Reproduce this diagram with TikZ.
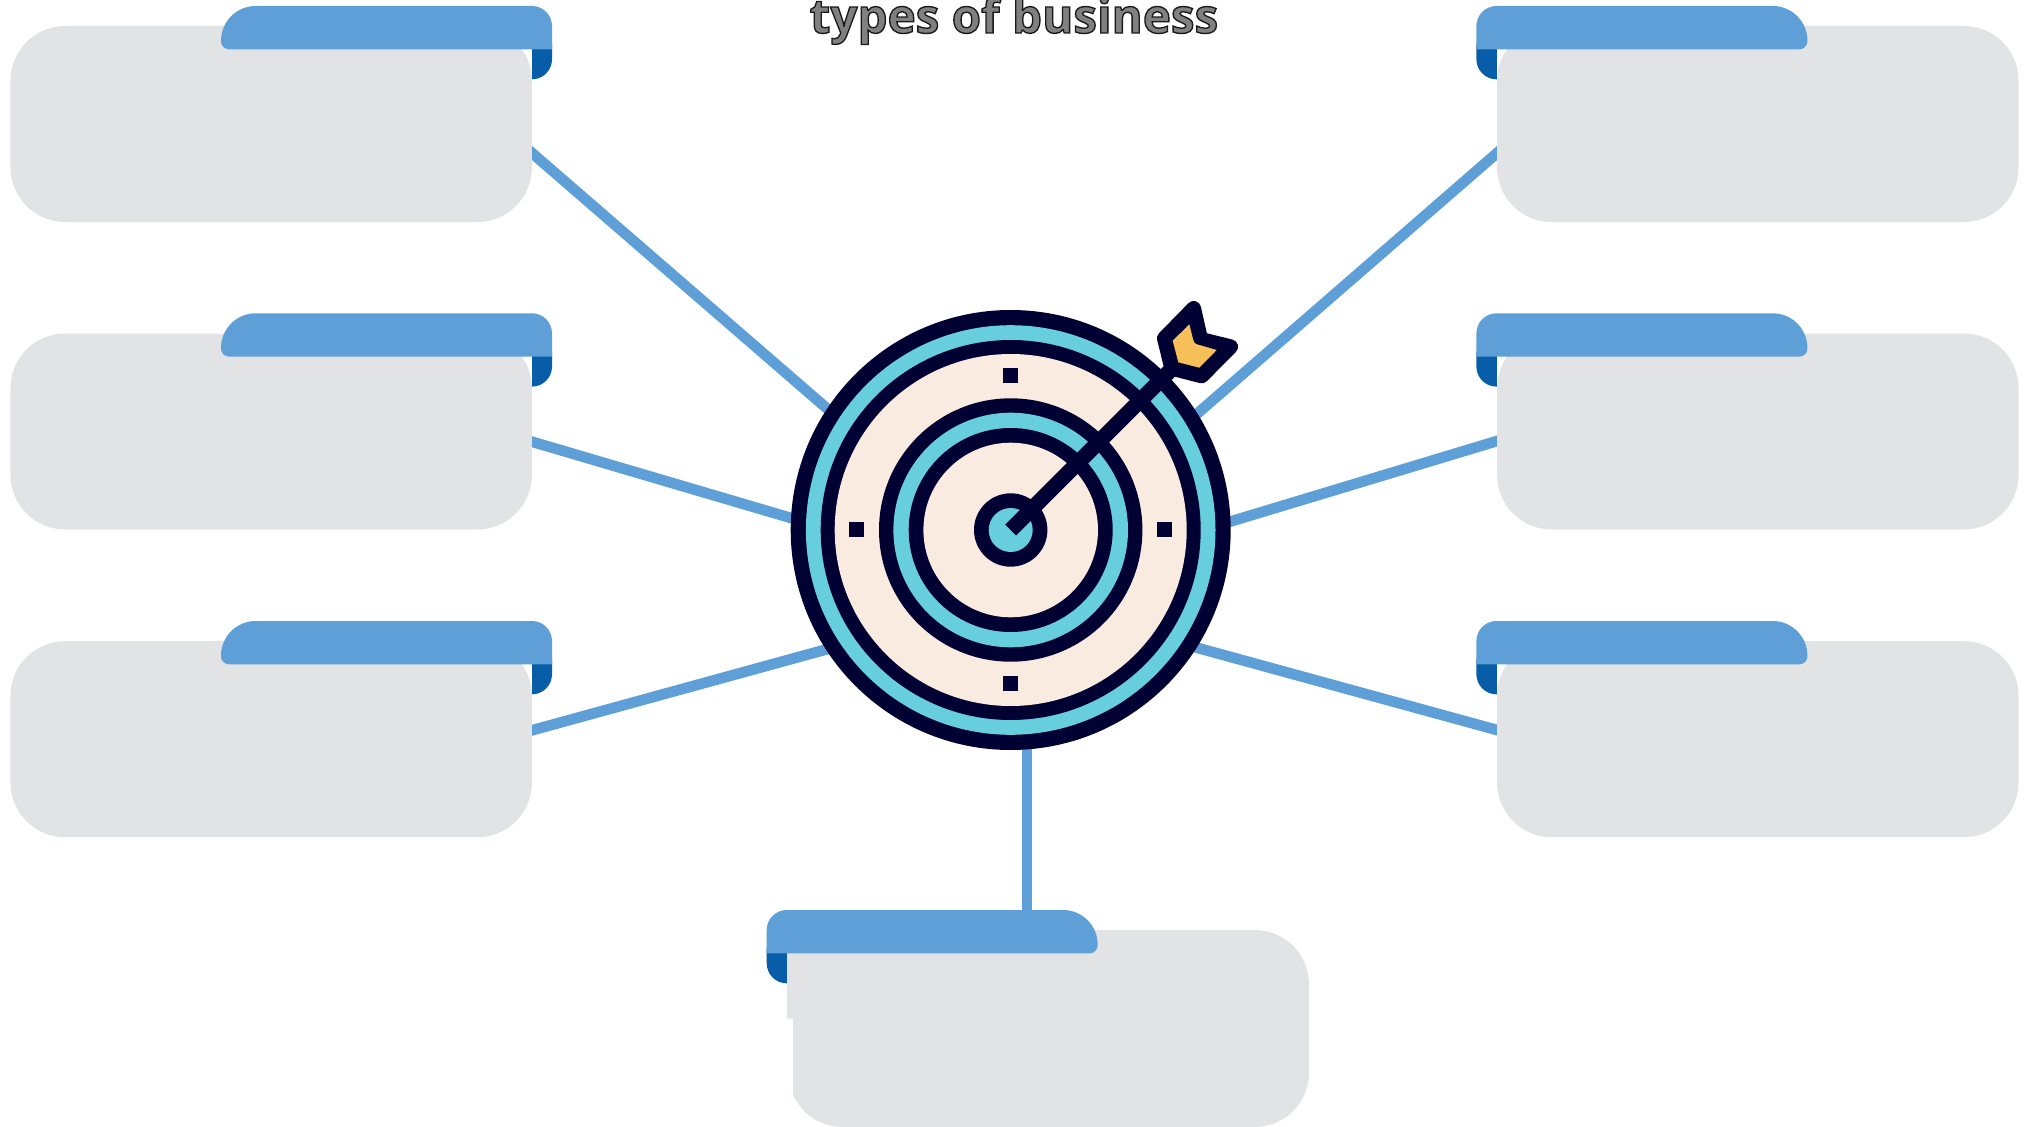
\documentclass[tikz,border=0pt]{standalone}
\usepackage{fontspec}
\setmainfont{Open Sans}
\definecolor{tabblue}{HTML}{5F9FD8}
\definecolor{tabdark}{HTML}{075DA8}
\definecolor{panelgray}{HTML}{E2E3E5}
\definecolor{ringcyan}{HTML}{66CEDC}
\definecolor{boardcream}{HTML}{F9EBDF}
\definecolor{navy}{HTML}{000033}
\definecolor{flightyellow}{HTML}{F6BF57}
\tikzset{
  panel/.style={fill=panelgray,rounded corners=41pt,minimum width=391.1pt,minimum height=147pt,inner sep=0pt,outer sep=0pt},
  wire/.style={draw=tabblue,line width=8pt},
  tickmark/.style={fill=navy,minimum size=11.25pt,inner sep=0pt,outer sep=0pt},
  hubdisc/.style={circle,fill=navy,minimum size=330pt,inner sep=0pt,outer sep=0pt},
}
\newcommand{\tabright}[2]{%
  \fill[tabdark] (#2+311,#1+38) -- (#2+331,#1+38) [rounded corners=15pt] -- (#2+331,#1+73.3) [sharp corners] -- (#2+311,#1+73.3) -- cycle;
}
\newcommand{\tabrighttop}[2]{%
  \fill[tabblue] (#2+180,#1+43.3) [rounded corners=6pt] -- (#2,#1+43.3) [rounded corners=26pt] -- (#2,#1) [rounded corners=15pt] -- (#2+331,#1) [sharp corners] -- (#2+331,#1+43.3) -- cycle;
}
\newcommand{\tableft}[2]{%
  \fill[tabdark] (#2+20.5,#1+38) -- (#2,#1+38) [rounded corners=15pt] -- (#2,#1+73.3) [sharp corners] -- (#2+20.5,#1+73.3) -- cycle;
}
\newcommand{\tablefttop}[2]{%
  \fill[tabblue] (#2+160,#1+43.3) [rounded corners=6pt] -- (#2+331,#1+43.3) [rounded corners=26pt] -- (#2+331,#1) [rounded corners=15pt] -- (#2,#1) [sharp corners] -- (#2,#1+43.3) -- cycle;
}
\begin{document}
\begin{tikzpicture}[x=0.75pt,y=-0.75pt]
\useasboundingbox (0,0) rectangle (2024,1127);
\fill[white] (0,0) rectangle (2024,1127);

% connector ends
\coordinate (portTL) at (520,142.6);   \coordinate (hubTL) at (842,421.5);
\coordinate (portML) at (520,438.2);   \coordinate (hubML) at (811.7,524.1);
\coordinate (portBL) at (520,733.6);   \coordinate (hubBL) at (846.7,643.8);
\coordinate (portTR) at (1509,142.6);  \coordinate (hubTR) at (1180,428.6);
\coordinate (portMR) at (1509,437.4);  \coordinate (hubMR) at (1210,527.7);
\coordinate (portBR) at (1509,733.3);  \coordinate (hubBR) at (1176.7,642.2);
\coordinate (portB)  at (1027,915);    \coordinate (hubB)  at (1027,735);

\draw[wire] (portTL) -- (hubTL);
\draw[wire] (portML) -- (hubML);
\draw[wire] (portBL) -- (hubBL);
\draw[wire] (portTR) -- (hubTR);
\draw[wire] (portMR) -- (hubMR);
\draw[wire] (portBR) -- (hubBR);
\draw[wire] (portB) -- (hubB);

% left column
\tabright{6}{221}
\node[panel] (panelTL) at (271.2,124) {};
\tabrighttop{6}{221}
\tabright{313.3}{221}
\node[panel] (panelML) at (271.2,431.5) {};
\tabrighttop{313.3}{221}
\tabright{621}{221}
\node[panel] (panelBL) at (271.2,739.2) {};
\tabrighttop{621}{221}

% right column
\tableft{6}{1476.4}
\node[panel] (panelTR) at (1757.8,124) {};
\tablefttop{6}{1476.4}
\tableft{313.3}{1476.4}
\node[panel] (panelMR) at (1757.8,431.5) {};
\tablefttop{313.3}{1476.4}
\tableft{621}{1476.4}
\node[panel] (panelBR) at (1757.8,739.2) {};
\tablefttop{621}{1476.4}

% bottom panel
\tableft{910}{766.7}
\fill[panelgray] (787,945) -- (787,1018.7) -- (793,1018.7) -- (793,1095)
  .. controls (803,1115) and (820,1127) .. (845,1127)
  -- (1254,1127) .. controls (1285,1127) and (1309,1103) .. (1309,1072)
  -- (1309,985) .. controls (1309,954) and (1285,930) .. (1254,930)
  -- (787,930) -- cycle;
\tablefttop{910}{766.7}

% target
\node[hubdisc] (hub) at (1010.7,530) {};
\fill[ringcyan] (hub.center) circle[radius=204.8];
\fill[navy] (hub.center) circle[radius=190];
\fill[boardcream] (hub.center) circle[radius=176];
\fill[navy] (hub.center) circle[radius=131.7];
\fill[ringcyan] (hub.center) circle[radius=117.3];
\fill[navy] (hub.center) circle[radius=102];
\fill[boardcream] (hub.center) circle[radius=87.3];
\fill[navy] (hub.center) circle[radius=36.7];
\fill[ringcyan] (hub.center) circle[radius=22];

\node[tickmark] (tickN) at (1010.3,375.3) {};
\node[tickmark] (tickS) at (1010.3,683.3) {};
\node[tickmark] (tickW) at (856.3,529.3) {};
\node[tickmark] (tickE) at (1164.3,529.3) {};

% arrow
\coordinate (shaftEnd) at (1176,364.7);
\draw[navy,line width=11.5pt] (hub.center) -- (shaftEnd);
\filldraw[navy,line width=11pt,line join=round] (1193.7,308.3) -- (1200.7,339.3) -- (1230.7,346.7) -- (1201.7,376) -- (1171.7,368.3) -- (1164.3,338.3) -- cycle;
\fill[flightyellow] (1189.3,324.3) -- (1193.3,340) .. controls (1194,343) and (1195,343.5) .. (1197,344.3) -- (1216.7,350) -- (1199.3,367.7) -- (1178.3,362.3) -- (1172.7,340.7) -- cycle;

% title
\node[anchor=base,inner sep=0pt,text=black!50] (title) at (1014,33) {\fontsize{35.7}{36}\selectfont\bfseries\special{pdf:code 2 Tr 1 w 0.1 G}types of business\special{pdf:code 0 Tr}};
\end{tikzpicture}
\end{document}
